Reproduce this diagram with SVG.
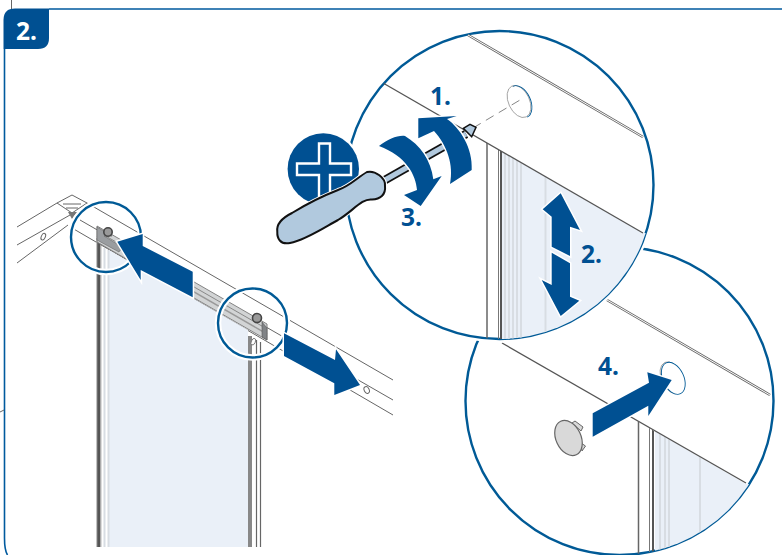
<svg xmlns="http://www.w3.org/2000/svg" width="782" height="555" viewBox="0 0 782 555">
<style>
.ln{fill:none;stroke:#666;stroke-width:1}
.dk{fill:none;stroke:#555;stroke-width:1.3}
.bar{fill:none;stroke:#666;stroke-width:1.5}
.lt{fill:none;stroke:#d8dde3;stroke-width:2}
.db{fill:none;stroke:#666;stroke-width:2.6}
.dw{fill:none;stroke:#fff;stroke-width:1}
.arrow{fill:#005092;stroke:#fff;stroke-width:3;stroke-linejoin:miter;paint-order:stroke}
.halo{fill:none;stroke:#fff;stroke-width:6.500}
.ring{fill:none;stroke:#005a96;stroke-width:2.400}
.big{fill:#fff;stroke:#005a96;stroke-width:2.400}
.panel{fill:#eaf0f8}
.t{font-family:"Noto Sans","Open Sans",sans-serif;font-weight:700;font-size:24.500px;fill:#005092}
</style>
<defs>
<clipPath id="c1"><circle cx="499.5" cy="185" r="154"/></clipPath>
<clipPath id="c2"><circle cx="619.5" cy="401" r="154"/></clipPath>
<clipPath id="p1"><polygon points="480,139 643,233 660,233 660,345 480,345"/></clipPath>
<clipPath id="p2"><polygon points="630,417 746,484 780,484 780,560 630,560"/></clipPath>
</defs>
<g id="frame">
<path d="M11.500 0V9" class="ln"/>
<path d="M49 9H782M4.500 49V538C4.500 546 5 551 7.500 555" fill="none" stroke="#005a9e" stroke-width="1.600"/>
<path d="M0 412L4 410" class="ln"/>
<path d="M3.500 49V20Q3.500 8.500 15 8.500H49V38Q49 49 38 49Z" fill="#005092"/>
<text x="16" y="40" class="t" style="fill:#fff">2.</text>
</g>
<g id="beam">
<path d="M57 203L72 195L87 203L72 213Z" class="ln"/>
<path d="M63 204H81M66 208H78" class="ln"/>
<path d="M68 212H77L72 219Z" fill="#777"/>
<path d="M17 227L57 203M17 245L70 215M17 263L68 225" class="ln"/>
<path d="M87 203L393 380M80 220L393 400M72 228L393 415" class="ln"/>
<ellipse cx="43.300" cy="236.700" rx="2" ry="3.500" transform="rotate(25 43.300 236.700)" class="ln"/>
<ellipse cx="366.700" cy="390" rx="2.500" ry="3.500" transform="rotate(-25 366.700 390)" class="ln"/>
</g>
<g id="panel">
<polygon class="panel" points="109,250 248,330 248,547 109,547"/>
<path d="M98.500 227V547" fill="none" stroke="#555" stroke-width="3"/>
<path d="M96.800 238V547" fill="none" stroke="#aaa" stroke-width="1"/>
<path d="M100.800 236V547" fill="none" stroke="#888" stroke-width="1"/>
<path d="M104.500 248V547" class="lt" stroke-width="3"/>
<path d="M108.500 250V547" class="lt"/>
<path d="M250 336V547" fill="none" stroke="#888" stroke-width="4"/>
<path d="M256.500 340V547" fill="none" stroke="#666" stroke-width="1.200"/>
<path d="M260.500 342V547" fill="none" stroke="#666" stroke-width="1.200"/>
<ellipse cx="253.300" cy="341.700" rx="2" ry="3.500" transform="rotate(25 253.300 341.700)" fill="#fff" stroke="#666" stroke-width=".8"/>
</g>
<g id="rail">
<polygon points="97,226 267,324 267,340 97,242" fill="#d2d4d5" stroke="#777" stroke-width=".9"/>
<path d="M97 231L267 329" fill="none" stroke="#888" stroke-width="1"/>
<path d="M97 236L267 334" fill="none" stroke="#999" stroke-width="1.500"/>
<path d="M97 227V240L119 252L122 247L104 236L112 236Z" fill="#9a9da0" stroke="#666" stroke-width=".6"/>
<circle cx="108" cy="232" r="4.200" fill="#999" stroke="#444" stroke-width="1.600"/>
<path d="M262 322L267 328V340L262 337Z" fill="#808386" stroke="#555" stroke-width=".6"/>
<circle cx="257" cy="318" r="4.500" fill="#999" stroke="#444" stroke-width="1.600"/>
</g>
<g id="callout-left">
<circle cx="106" cy="237" r="35" class="halo"/>
<circle cx="106" cy="237" r="35" class="ring"/>
</g>
<g id="callout-right">
<circle cx="252.500" cy="323" r="34.500" class="halo"/>
<circle cx="252.500" cy="323" r="34.500" class="ring"/>
</g>
<g id="arrow-left">
<polygon class="arrow" points="117.300,241.700 142.700,234 142.700,246 192.700,271.700 192.700,297.300 140.700,270 140.700,280"/>
</g>
<g id="arrow-right">
<polygon class="arrow" points="284,333.300 335,360 336,349.300 360,385 334.300,395 334.300,383.300 284,356"/>
</g>
<g id="detail-bottom">
<circle cx="619.500" cy="401" r="154" class="big"/>
<g clip-path="url(#c2)">
<g clip-path="url(#p2)">
<rect x="655" y="400" width="130" height="160" class="panel"/>
<path d="M660 400V560M665 400V560M669 400V560" class="lt" stroke-width="1.500"/>
<path d="M700 400V560" class="lt"/>
<path d="M638.500 400V560" class="bar"/>
<path d="M649.500 400V560" fill="none" stroke="#777" stroke-width="1"/>
<path d="M653 400V560" fill="none" stroke="#555" stroke-width="2"/>
</g>
<path d="M502 343L746 483" class="dk"/>
<path d="M607 300L770 395" class="db"/>
<path d="M607 300L770 395" class="dw"/>
</g>
<g transform="translate(673.300 378.300) rotate(-25)">
<ellipse cx="-1" cy="-1" rx="10.500" ry="17" fill="#fff" stroke="#999" stroke-width=".8"/>
<ellipse cx="0" cy="0" rx="10.500" ry="17" fill="#fff" stroke="#005a96" stroke-width=".9"/>
</g>
<polygon class="arrow" points="592.700,413.300 649,382.700 647.300,372.300 671.700,380 648.300,416 648.300,405.700 592.700,436.700"/>
<g id="cap">
<path d="M572 423L575 421L583 427L581 431Z" fill="#d8d8d8" stroke="#666" stroke-width="1"/>
<path d="M581 443L585.500 446L582 451Z" fill="#d8d8d8" stroke="#666" stroke-width="1"/>
<ellipse cx="568.500" cy="438" rx="12.500" ry="18.500" transform="rotate(-25 568.500 438)" fill="#d9d9d9" stroke="#666" stroke-width="1.200"/>
</g>
<text x="598" y="375" class="t">4.</text>
</g>
<g id="detail-top">
<circle cx="499.500" cy="185" r="157.500" fill="#fff"/>
<circle cx="499.500" cy="185" r="154" class="big"/>
<g clip-path="url(#c1)">
<g clip-path="url(#p1)">
<rect x="501.700" y="140" width="160" height="205" class="panel"/>
<path d="M505 140V345M509 140V345M513 140V345M517 140V345M521 140V345" class="lt" stroke-width="1.500"/>
<path d="M545.500 140V345" class="lt"/>
<path d="M487 140V345" class="bar"/>
<path d="M498.500 140V345" fill="none" stroke="#777" stroke-width="1"/>
<path d="M501 140V345" fill="none" stroke="#555" stroke-width="2"/>
</g>
<path d="M383 83L643 233" class="dk"/>
<path d="M468 35L643 137" class="db"/>
<path d="M468 35L643 137" class="dw"/>
</g>
<g transform="translate(520 101.700) rotate(-25)">
<ellipse cx="-.8" cy="-.6" rx="10.500" ry="17" fill="#fff" stroke="#999" stroke-width=".8"/>
<path d="M0 -17A10.500 17 0 0 1 0 17" fill="none" stroke="#005a96" stroke-width=".9"/>
</g>
<path d="M473 128L520 100" fill="none" stroke="#666" stroke-width=".8" stroke-dasharray="9 6"/>
</g>
<g id="screwdriver-shaft">
<path d="M385 180L466 134" fill="none" stroke="#111" stroke-width="8.500"/>
<path d="M385 180L466 134" fill="none" stroke="#b1c9de" stroke-width="5"/>
<polygon points="463.300,128.300 470,124.300 476,127.300 471.700,136.700" fill="#b1c9de" stroke="#111" stroke-width="1.500"/>
</g>
<g id="rotate-1">
<path class="arrow" d="M418.300 118.300L456.700 116L447 119C460 128 473 148 471.700 170L450 184C454 165 447 145 434 131L418.300 138.300Z"/>
</g>
<g id="rotate-3">
<path class="arrow" d="M379 146C388 139 398 135 405 136C420 145 431 160 433.300 179.300L441.700 176L420.700 206L404 195L417 190C416 175 406 156 379 146Z"/>
</g>
<g id="phillips">
<circle cx="323.300" cy="169" r="38" fill="#fff"/>
<circle cx="323.300" cy="169" r="35.700" fill="#005092"/>
<polygon points="319,143.500 330,143.500 330,163.500 351,163.500 351,175 330,175 330,197 319,197 319,175 297,175 297,163.500 319,163.500" fill="#005092" stroke="#fff" stroke-width="2.400"/>
</g>
<g id="screwdriver-handle">
<path d="M277.300 232C276 224 282 218 292 213C305 205 320 197 338 190C350 186 358 177 367 172C375 170 386 178 385 186C386 195 380 199 372 199.500C362 198 352 212 338 220C325 227 306 240 290 243C280 245 277 238 277.300 232Z" fill="#b1c9de" stroke="#fff" stroke-width="4"/>
<path d="M277.300 232C276 224 282 218 292 213C305 205 320 197 338 190C350 186 358 177 367 172C375 170 386 178 385 186C386 195 380 199 372 199.500C362 198 352 212 338 220C325 227 306 240 290 243C280 245 277 238 277.300 232Z" fill="#b1c9de" stroke="#111" stroke-width="2"/>
</g>
<g id="arrow-updown">
<polygon class="arrow" points="560.700,193.300 542.700,209.300 551.700,216.700 551.700,246.700 570,256 570,226.700 580,230"/>
<polygon class="arrow" points="551.700,252.700 570,263.300 570,296.700 579.300,300.700 560.700,316 541.700,280 551.700,285"/>
</g>
<g id="labels">
<text x="430" y="105" class="t">1.</text>
<text x="581" y="263" class="t">2.</text>
<text x="401" y="226" class="t">3.</text>
</g>
</svg>
